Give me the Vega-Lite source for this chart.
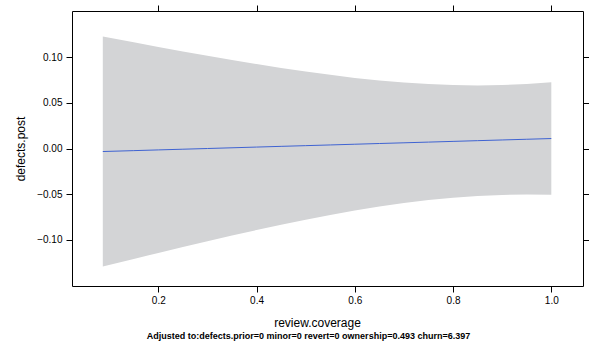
{
  "$schema": "https://vega.github.io/schema/vega-lite/v6.json",
  "autosize": "none",
  "width": 511,
  "height": 275,
  "padding": {"left": 72, "top": 11, "right": 6, "bottom": 61},
  "background": "white",
  "config": {
    "view": {"stroke": "#000000", "strokeWidth": 1},
    "font": "Liberation Sans",
    "axis": {
      "domain": false,
      "grid": false,
      "tickColor": "#000000",
      "tickSize": 6,
      "labelColor": "#000000",
      "labelFont": "Liberation Sans",
      "labelFontSize": 10,
      "titleFont": "Liberation Sans",
      "titleFontWeight": "normal",
      "titleFontSize": 12,
      "titleColor": "#000000"
    }
  },
  "title": {
    "text": "Adjusted to:defects.prior=0 minor=0 revert=0 ownership=0.493 churn=6.397",
    "orient": "bottom",
    "anchor": "middle",
    "font": "Liberation Sans",
    "fontSize": 9,
    "fontWeight": "bold",
    "color": "#000000",
    "offset": 4,
    "dx": -19
  },
  "data": {
    "values": [
      {"x": 0.087, "fit": -0.00331, "lo": -0.1291, "hi": 0.1225},
      {"x": 0.15, "fit": -0.00233, "lo": -0.1207, "hi": 0.1161},
      {"x": 0.2, "fit": -0.00155, "lo": -0.1141, "hi": 0.1110},
      {"x": 0.25, "fit": -0.00077, "lo": -0.1076, "hi": 0.1061},
      {"x": 0.3, "fit": 0.0000, "lo": -0.1013, "hi": 0.1013},
      {"x": 0.35, "fit": 0.00078, "lo": -0.0951, "hi": 0.0967},
      {"x": 0.4, "fit": 0.00156, "lo": -0.0891, "hi": 0.0923},
      {"x": 0.45, "fit": 0.00234, "lo": -0.0834, "hi": 0.0881},
      {"x": 0.5, "fit": 0.00312, "lo": -0.0779, "hi": 0.0841},
      {"x": 0.55, "fit": 0.00389, "lo": -0.0727, "hi": 0.0805},
      {"x": 0.6, "fit": 0.00467, "lo": -0.0679, "hi": 0.0772},
      {"x": 0.65, "fit": 0.00545, "lo": -0.0635, "hi": 0.0744},
      {"x": 0.7, "fit": 0.00623, "lo": -0.0597, "hi": 0.0721},
      {"x": 0.75, "fit": 0.00700, "lo": -0.0564, "hi": 0.0704},
      {"x": 0.8, "fit": 0.00778, "lo": -0.0537, "hi": 0.0693},
      {"x": 0.85, "fit": 0.00856, "lo": -0.0518, "hi": 0.0689},
      {"x": 0.9, "fit": 0.00934, "lo": -0.0507, "hi": 0.0693},
      {"x": 0.95, "fit": 0.01011, "lo": -0.0503, "hi": 0.0705},
      {"x": 1.0, "fit": 0.01089, "lo": -0.0506, "hi": 0.0724}
    ]
  },
  "layer": [
    {
      "mark": {"type": "area", "color": "#d3d4d6", "opacity": 1},
      "encoding": {
        "x": {
          "field": "x", "type": "quantitative",
          "scale": {"domain": [0.0243, 1.0645], "nice": false, "zero": false},
          "axis": {
            "orient": "bottom",
            "values": [0.2, 0.4, 0.6, 0.8, 1.0],
            "format": ".1f",
            "labelPadding": 3,
            "title": "review.coverage",
            "titlePadding": 12,
            "titleX": 245,
            "titleAlign": "center"
          }
        },
        "y": {
          "field": "lo", "type": "quantitative",
          "scale": {"domain": [-0.1503, 0.1503], "nice": false, "zero": false},
          "axis": {
            "orient": "left",
            "values": [-0.1, -0.05, 0, 0.05, 0.1],
            "format": ".2f",
            "labelPadding": 4,
            "title": "defects.post",
            "titlePadding": 9
          }
        },
        "y2": {"field": "hi"}
      }
    },
    {
      "mark": {"type": "line", "color": "#3f63d2", "strokeWidth": 1},
      "encoding": {
        "x": {
          "field": "x", "type": "quantitative",
          "axis": {
            "orient": "top",
            "values": [0.2, 0.4, 0.6, 0.8, 1.0],
            "labels": false,
            "title": null
          }
        },
        "y": {
          "field": "fit", "type": "quantitative",
          "axis": {
            "orient": "right",
            "values": [-0.1, -0.05, 0, 0.05, 0.1],
            "labels": false,
            "title": null
          }
        }
      }
    }
  ],
  "resolve": {"axis": {"x": "independent", "y": "independent"}}
}
